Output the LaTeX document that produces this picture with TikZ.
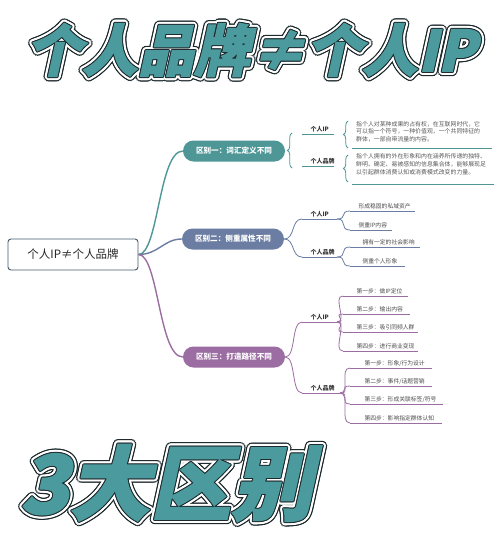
\documentclass[tikz,border=0pt]{standalone}
\usepackage{fontspec}
\usetikzlibrary{calc,decorations.pathreplacing}
\newfontfamily\cjk{Noto Sans CJK SC}
\newfontfamily\cjktitle{Noto Sans CJK SC}[FakeSlant=0.22,FakeBold=2]
\definecolor{tealT}{HTML}{4A9A9E}
\definecolor{tealA}{HTML}{4F9797}
\definecolor{slateA}{HTML}{6B7DA2}
\definecolor{purpA}{HTML}{9C6DA3}
\definecolor{outl}{HTML}{1E2A2E}
\definecolor{rootc}{HTML}{44586A}
% outlined big text: #1 position, #2 font size, #3 text, #4 name
\newcommand\outlinedtext[4]{%
  \foreach \a in {0,22.5,...,337.5}{\node[font=\cjktitle\bfseries\fontsize{#2}{#2}\selectfont,text=outl,inner sep=0pt] at ($(#1)+(\a:4.4)$) {#3};}
  \foreach \a in {0,22.5,...,337.5}{\node[font=\cjktitle\bfseries\fontsize{#2}{#2}\selectfont,text=white,inner sep=0pt] at ($(#1)+(\a:3.1)$) {#3};}
  \foreach \a in {0,45,...,315}{\node[font=\cjktitle\bfseries\fontsize{#2}{#2}\selectfont,text=outl,inner sep=0pt] at ($(#1)+(\a:1.0)$) {#3};}
  \node[font=\cjktitle\bfseries\fontsize{#2}{#2}\selectfont,text=tealT,inner sep=0pt] (#4) at (#1) {#3};}
% leaf: name, x0, x1, y, text, line style, text style, text offset
\newcommand\leaf[8]{%
  \coordinate (#1s) at (#2,#4);
  \coordinate (#1e) at (#3,#4);
  \draw[#6] (#1s) -- (#1e);
  \node[#7] (#1) at ($(#1s)+(#8,-1.2)$) {#5};}
\newcommand\conn[3]{\draw[#3] (#1) .. controls +(11,0) and +(-11,0) .. (#2);}
\begin{document}
\begin{tikzpicture}[x=1pt,y=-1pt,
  lbl/.style={font=\cjk\bfseries\fontsize{6}{7}\selectfont, text=black!80, inner sep=0.3pt, anchor=south west},
  leaftxt/.style={font=\cjk\fontsize{5.8}{7}\selectfont, text=black!70, inner sep=0.3pt, anchor=south west},
  pill/.style={rounded corners=10.5pt, minimum width=102pt, minimum height=21pt, text=white, inner sep=0pt, font=\cjk\bfseries\fontsize{7.6}{9}\selectfont},
  blocktxt/.style={font=\cjk\fontsize{5.9}{7.8}\selectfont, text=black!65, inner sep=0pt, anchor=north west, align=left},
  tline/.style={draw=tealA, line width=0.8pt},
  sline/.style={draw=slateA, line width=0.8pt},
  pline/.style={draw=purpA, line width=0.8pt},
  mainline/.style={line width=1.4pt},
  bracestyle/.style={draw=tealA, line width=0.8pt, decorate, decoration={brace, amplitude=4.5pt}}]
\useasboundingbox (0,0) rectangle (500,533);
\fill[white] (0,0) rectangle (500,533);

% titles
\outlinedtext{251,50}{56}{个人品牌≠个人IP}{title}
\outlinedtext{166,483}{81}{3大区别}{bottom}

% root
\node[draw=rootc, line width=0.9pt, rounded corners=3pt, minimum width=130pt, minimum height=31pt, fill=white, text=black!85, font=\cjk\fontsize{11.5}{13}\selectfont] (root) at (73,254.5) {个人IP≠个人品牌};

% branches
\node[pill, fill=tealA] (b1) at (234,151) {区别一：词汇定义不同};
\node[pill, fill=slateA] (b2) at (233,239) {区别二：侧重属性不同};
\node[pill, fill=purpA] (b3) at (234,357) {区别三：打造路径不同};

\draw[mainline, tealA] (root.east) .. controls +(20,0) and +(-24,0) .. (b1.west);
\draw[mainline, slateA] (root.east) .. controls +(20,0) and +(-18,0) .. (b2.west);
\draw[mainline, purpA] (root.east) .. controls +(20,0) and +(-24,0) .. (b3.west);

% ---- branch 1
\draw[bracestyle] (292,168) -- (292,133);
\leaf{ipA}{302}{334}{134}{个人IP}{tline}{lbl}{8}
\leaf{brA}{302}{334}{166}{个人品牌}{tline}{lbl}{8}
\draw[bracestyle] (348,148) -- (348,121);
\draw[bracestyle] (348,182) -- (348,155);
\node[blocktxt] (defA) at (356,121) {指个人对某种成果的占有权，在互联网时代，它\\可以指一个符号，一种价值观，一个共同特征的\\群体，一部自带流量的内容。};
\node[blocktxt] (defB) at (356,153.5) {指个人拥有的外在形象和内在涵养所传递的独特、\\鲜明、确定、易被感知的信息集合体，能够展现足\\以引起群体消费认知或消费模式改变的力量。};
\coordinate (uAs) at (352,148); \coordinate (uAe) at (492,148);
\coordinate (uBs) at (352,184); \coordinate (uBe) at (494,184);
\draw[tline] (uAs) -- (uAe);
\draw[tline] (uBs) -- (uBe);

% ---- branch 2
\leaf{ipB}{302}{337}{219}{个人IP}{sline}{lbl}{8}
\leaf{brB}{302}{337}{257}{个人品牌}{sline}{lbl}{8}
\conn{b2.east}{ipBs}{sline}
\conn{b2.east}{brBs}{sline}
\leaf{cBa}{350}{415}{211}{形成稳固的私域资产}{sline}{leaftxt}{8}
\leaf{cBb}{350}{392}{230}{侧重IP内容}{sline}{leaftxt}{8}
\leaf{cBc}{350}{420}{247}{拥有一定的社会影响}{sline}{leaftxt}{12}
\leaf{cBd}{350}{405}{266}{侧重个人形象}{sline}{leaftxt}{12}
\conn{ipBe}{cBas}{sline}
\conn{ipBe}{cBbs}{sline}
\conn{brBe}{cBcs}{sline}
\conn{brBe}{cBds}{sline}

% ---- branch 3
\leaf{ipC}{302}{337}{322}{个人IP}{pline}{lbl}{8}
\leaf{brC}{302}{340}{393}{个人品牌}{pline}{lbl}{8}
\conn{b3.east}{ipCs}{pline}
\conn{b3.east}{brCs}{pline}
\leaf{cCa}{343}{408}{296}{第一步：做IP定位}{pline}{leaftxt}{13}
\leaf{cCb}{343}{410}{314}{第二步：输出内容}{pline}{leaftxt}{13}
\leaf{cCc}{343}{418}{332}{第三步：吸引同频人群}{pline}{leaftxt}{13}
\leaf{cCd}{343}{418}{351}{第四步：进行商业变现}{pline}{leaftxt}{13}
\conn{ipCe}{cCas}{pline}
\conn{ipCe}{cCbs}{pline}
\conn{ipCe}{cCcs}{pline}
\conn{ipCe}{cCds}{pline}
\leaf{cCe}{350}{432}{368}{第一步：形象/行为设计}{pline}{leaftxt}{14}
\leaf{cCf}{350}{432}{386}{第二步：事件/话题营销}{pline}{leaftxt}{14}
\leaf{cCg}{350}{443}{404}{第三步：形成关联标签/符号}{pline}{leaftxt}{14}
\leaf{cCh}{350}{442}{423}{第四步：影响指定群体认知}{pline}{leaftxt}{14}
\conn{brCe}{cCes}{pline}
\conn{brCe}{cCfs}{pline}
\conn{brCe}{cCgs}{pline}
\conn{brCe}{cChs}{pline}
\end{tikzpicture}
\end{document}
